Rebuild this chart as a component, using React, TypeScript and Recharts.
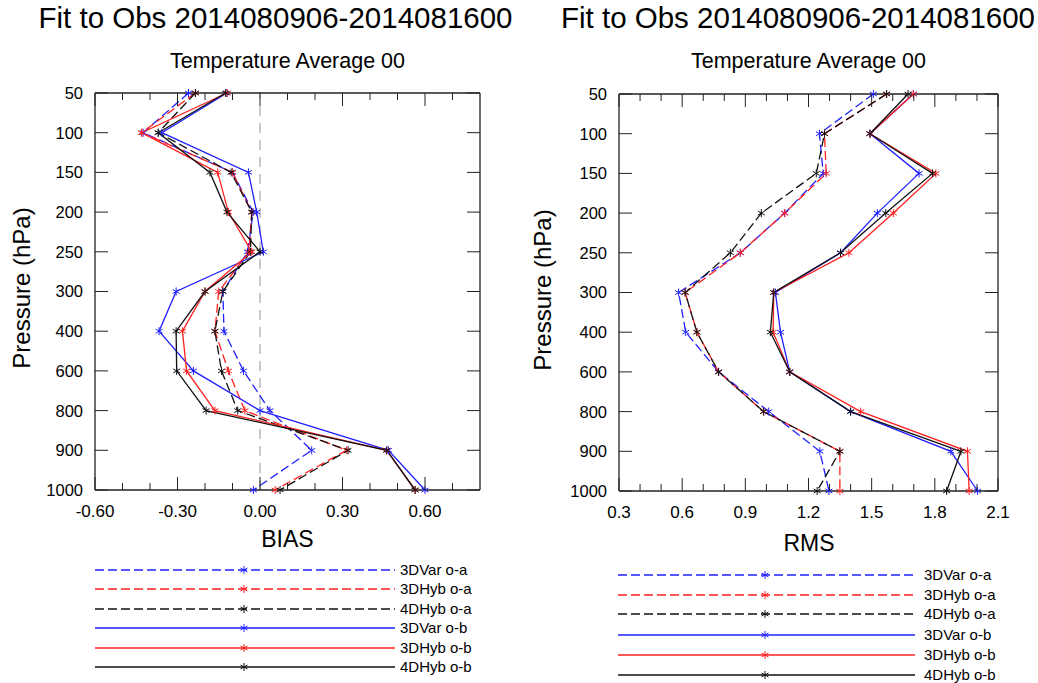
import React from "react";
import { LineChart, Line, XAxis, YAxis, ReferenceLine } from "recharts";

// pressure levels, top to bottom
const LEVELS = ["50", "100", "150", "200", "250", "300", "400", "600", "800", "900", "1000"];

const SERIES_NAMES = ["3DVar o-a", "3DHyb o-a", "4DHyb o-a", "3DVar o-b", "3DHyb o-b", "4DHyb o-b"];

// BIAS panel
const BIAS_3DVAR_OA = [-0.26, -0.425, -0.1, -0.025, -0.045, -0.135, -0.131, -0.06, 0.036, 0.188, -0.024];
const BIAS_3DHYB_OA = [-0.235, -0.43, -0.1, -0.03, -0.04, -0.15, -0.164, -0.115, -0.055, 0.315, 0.055];
const BIAS_4DHYB_OA = [-0.235, -0.37, -0.105, -0.03, -0.035, -0.135, -0.164, -0.14, -0.081, 0.32, 0.073];
const BIAS_3DVAR_OB = [-0.12, -0.357, -0.042, -0.012, 0.012, -0.305, -0.367, -0.242, 0.0, 0.467, 0.6];
const BIAS_3DHYB_OB = [-0.12, -0.43, -0.154, -0.115, -0.03, -0.2, -0.282, -0.267, -0.164, 0.461, 0.564];
const BIAS_4DHYB_OB = [-0.125, -0.37, -0.182, -0.12, 0.0, -0.2, -0.305, -0.303, -0.196, 0.461, 0.564];

// RMS panel
const RMS_3DVAR_OA = [1.508, 1.252, 1.27, 1.087, 0.876, 0.583, 0.617, 0.773, 1.011, 1.254, 1.297];
const RMS_3DHYB_OA = [1.571, 1.276, 1.284, 1.087, 0.876, 0.614, 0.67, 0.773, 0.987, 1.349, 1.349];
const RMS_4DHYB_OA = [1.571, 1.276, 1.237, 0.976, 0.829, 0.614, 0.67, 0.773, 0.987, 1.349, 1.241];
const RMS_3DVAR_OB = [1.698, 1.492, 1.725, 1.527, 1.352, 1.043, 1.067, 1.111, 1.4, 1.876, 2.003];
const RMS_3DHYB_OB = [1.698, 1.492, 1.805, 1.603, 1.392, 1.035, 1.032, 1.111, 1.448, 1.955, 1.963];
const RMS_4DHYB_OB = [1.673, 1.492, 1.789, 1.567, 1.352, 1.035, 1.019, 1.111, 1.4, 1.924, 1.856];

// x axis ticks
const BIAS_MAJOR = [-0.6, -0.3, 0, 0.3, 0.6];
const BIAS_MAJOR_LABELS = ["-0.60", "-0.30", "0.00", "0.30", "0.60"];
const BIAS_MINOR = [-0.5, -0.4, -0.2, -0.1, 0.1, 0.2, 0.4, 0.5, 0.7];
const RMS_MAJOR = [0.3, 0.6, 0.9, 1.2, 1.5, 1.8, 2.1];
const RMS_MAJOR_LABELS = ["0.3", "0.6", "0.9", "1.2", "1.5", "1.8", "2.1"];
const RMS_MINOR = [0.4, 0.5, 0.7, 0.8, 1.0, 1.1, 1.3, 1.4, 1.6, 1.7, 1.9, 2.0];

const COLORS = ["#2020ff", "#ff2020", "#111111", "#2020ff", "#ff2020", "#111111"];
const DASHED = [true, true, true, false, false, false];
const AXIS = "#222";
const FONT = "'Liberation Sans', Arial, Helvetica, sans-serif";

const buildRows = (cols: number[][]) =>
    LEVELS.map((level, i) => {
        const row: any = { level };
        cols.forEach((c, k) => (row["s" + k] = c[i]));
        return row;
    });

const biasRows = buildRows([BIAS_3DVAR_OA, BIAS_3DHYB_OA, BIAS_4DHYB_OA, BIAS_3DVAR_OB, BIAS_3DHYB_OB, BIAS_4DHYB_OB]);
const rmsRows = buildRows([RMS_3DVAR_OA, RMS_3DHYB_OA, RMS_4DHYB_OA, RMS_3DVAR_OB, RMS_3DHYB_OB, RMS_4DHYB_OB]);

const Star = ({ cx, cy, color }: { cx: number; cy: number; color: string }) => {
    const r = 4;
    const d = r * Math.cos(Math.PI / 6);
    const h = r * 0.5;
    return (
        <g stroke={color} strokeWidth={1}>
            <line x1={cx} y1={cy - r} x2={cx} y2={cy + r} />
            <line x1={cx - d} y1={cy - h} x2={cx + d} y2={cy + h} />
            <line x1={cx - d} y1={cy + h} x2={cx + d} y2={cy - h} />
        </g>
    );
};

interface PanelProps {
    rows: any[];
    domain: [number, number];
    major: number[];
    majorLabels: string[];
    minor: number[];
    width: number;
    height: number;
    top: number;
    right: number;
    yWidth: number;
    xHeight: number;
    zero?: boolean;
}

const Panel = ({ rows, domain, major, majorLabels, minor, width, height, top, right, yWidth, xHeight, zero }: PanelProps) => {
    const ticks = [...major, ...minor].sort((a, b) => a - b);
    const labelOf = (v: number) => {
        const i = major.findIndex(m => Math.abs(m - v) < 1e-9);
        return i >= 0 ? majorLabels[i] : null;
    };

    const bottomTick = (p: any) => {
        const lab = labelOf(p.payload.value);
        return (
            <g>
                <line x1={p.x} y1={p.y} x2={p.x} y2={p.y - (lab ? 13 : 7)} stroke={AXIS} />
                {lab && (
                    <text x={p.x} y={p.y + 27} textAnchor="middle" fontSize={17} fontFamily={FONT} fill="#000">
                        {lab}
                    </text>
                )}
            </g>
        );
    };
    const topTick = (p: any) => {
        const lab = labelOf(p.payload.value);
        return <line x1={p.x} y1={p.y} x2={p.x} y2={p.y + (lab ? 13 : 7)} stroke={AXIS} />;
    };
    const leftTick = (p: any) => (
        <g>
            <line x1={p.x} y1={p.y} x2={p.x + 13} y2={p.y} stroke={AXIS} />
            <text x={p.x - 12} y={p.y} dy="0.36em" textAnchor="end" fontSize={16.5} fontFamily={FONT} fill="#000">
                {p.payload.value}
            </text>
        </g>
    );
    const rightTick = (p: any) => <line x1={p.x} y1={p.y} x2={p.x - 13} y2={p.y} stroke={AXIS} />;

    const axisLine = { stroke: AXIS, strokeWidth: 1.3 };

    return (
        <LineChart layout="vertical" width={width} height={height} data={rows}
            margin={{ top, right, bottom: 0, left: 0 }}>
            <XAxis xAxisId="b" type="number" orientation="bottom" domain={domain} ticks={ticks} interval={0}
                height={xHeight} tickSize={0} tickMargin={0} tickLine={false} axisLine={axisLine} tick={bottomTick}
                allowDataOverflow />
            <XAxis xAxisId="t" type="number" orientation="top" domain={domain} ticks={ticks} interval={0}
                height={1} tickSize={0} tickMargin={0} tickLine={false} axisLine={axisLine} tick={topTick}
                allowDataOverflow />
            <YAxis yAxisId="l" type="category" dataKey="level" scale="point" orientation="left" width={yWidth}
                interval={0} tickSize={0} tickMargin={0} tickLine={false} axisLine={axisLine} tick={leftTick}
                padding={{ top: 0, bottom: 0 }} />
            <YAxis yAxisId="r" type="category" dataKey="level" scale="point" orientation="right" width={1}
                interval={0} tickSize={0} tickMargin={0} tickLine={false} axisLine={axisLine} tick={rightTick}
                padding={{ top: 0, bottom: 0 }} />
            {zero && (
                <ReferenceLine xAxisId="b" yAxisId="l" x={0} stroke="#b0b0b0" strokeWidth={1.3} strokeDasharray="10 7" />
            )}
            {SERIES_NAMES.map((name, k) => (
                <Line key={name} name={name} xAxisId="b" yAxisId="l" dataKey={"s" + k} stroke={COLORS[k]}
                    strokeWidth={1.3} strokeDasharray={DASHED[k] ? "9 4" : undefined}
                    isAnimationActive={false} activeDot={false}
                    dot={(p: any) => <Star key={name + p.index} cx={p.cx} cy={p.cy} color={COLORS[k]} />} />
            ))}
        </LineChart>
    );
};

const LegendBlock = ({ x1, x2, xm, xt, rows }: { x1: number; x2: number; xm: number; xt: number; rows: number[] }) => (
    <g>
        {SERIES_NAMES.map((name, k) => (
            <g key={name}>
                <line x1={x1} y1={rows[k]} x2={x2} y2={rows[k]} stroke={COLORS[k]} strokeWidth={1.3}
                    strokeDasharray={DASHED[k] ? "9 4" : undefined} />
                <Star cx={xm} cy={rows[k]} color={COLORS[k]} />
                <text x={xt} y={rows[k]} dy="0.36em" fontSize={15} fontFamily={FONT} fill="#000">{name}</text>
            </g>
        ))}
    </g>
);

const App = () => {
    return (
        <div style={{ position: "absolute", left: 0, top: 0, width: 1038, height: 683, background: "#fff", overflow: "hidden" }}>
            <div style={{ position: "absolute", left: 0, top: 0 }}>
                <Panel rows={biasRows} domain={[-0.6, 0.8]} major={BIAS_MAJOR} majorLabels={BIAS_MAJOR_LABELS}
                    minor={BIAS_MINOR} width={500} height={560} top={92} right={19} yWidth={95} xHeight={70} zero />
            </div>
            <div style={{ position: "absolute", left: 520, top: 0 }}>
                <Panel rows={rmsRows} domain={[0.3, 2.1]} major={RMS_MAJOR} majorLabels={RMS_MAJOR_LABELS}
                    minor={RMS_MINOR} width={500} height={560} top={93} right={21} yWidth={99} xHeight={69} />
            </div>
            <svg width={1038} height={683} style={{ position: "absolute", left: 0, top: 0, pointerEvents: "none" }}
                fontFamily={FONT}>
                <text x={275.5} y={28} textAnchor="middle" fontSize={29.5} fill="#000">Fit to Obs 2014080906-2014081600</text>
                <text x={798} y={28} textAnchor="middle" fontSize={29.5} fill="#000">Fit to Obs 2014080906-2014081600</text>
                <text x={287.5} y={68} textAnchor="middle" fontSize={21.5} fill="#000">Temperature Average 00</text>
                <text x={808.5} y={68} textAnchor="middle" fontSize={21.5} fill="#000">Temperature Average 00</text>
                <text x={287.5} y={547} textAnchor="middle" fontSize={23} fill="#000">BIAS</text>
                <text x={809} y={551} textAnchor="middle" fontSize={23} fill="#000">RMS</text>
                <text transform="translate(30,288) rotate(-90)" textAnchor="middle" fontSize={24} fill="#000">Pressure (hPa)</text>
                <text transform="translate(551,290) rotate(-90)" textAnchor="middle" fontSize={24} fill="#000">Pressure (hPa)</text>
                <LegendBlock x1={95} x2={395} xm={244} xt={400} rows={[570, 589, 609, 628, 648, 667]} />
                <LegendBlock x1={618} x2={915} xm={765} xt={924} rows={[575, 595, 614, 635, 655, 675]} />
            </svg>
        </div>
    );
};

export default App;
